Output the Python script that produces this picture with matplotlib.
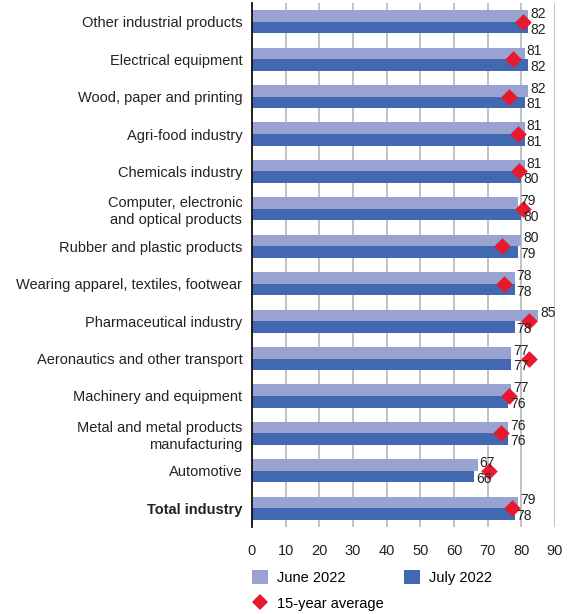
import numpy as np
import matplotlib
matplotlib.use("Agg")
import matplotlib.pyplot as plt
from matplotlib.patches import Patch
from matplotlib.lines import Line2D

plt.rcParams['font.family'] = ['Liberation Sans', 'DejaVu Sans']

categories = [
    "Other industrial products",
    "Electrical equipment",
    "Wood, paper and printing",
    "Agri-food industry",
    "Chemicals industry",
    "Computer, electronic\nand optical products",
    "Rubber and plastic products",
    "Wearing apparel, textiles, footwear",
    "Pharmaceutical industry",
    "Aeronautics and other transport",
    "Machinery and equipment",
    "Metal and metal products\nmanufacturing",
    "Automotive",
    "Total industry",
]
june = [82, 81, 82, 81, 81, 79, 80, 78, 85, 77, 77, 76, 67, 79]
july = [82, 82, 81, 81, 80, 80, 79, 78, 78, 77, 76, 76, 66, 78]
avg15 = [80.5, 77.4, 76.4, 78.9, 79.3, 80.6, 74.2, 74.9, 82.4, 82.4, 76.2, 74.0, 70.5, 77.3]
xticks = [0, 10, 20, 30, 40, 50, 60, 70, 80, 90]

c_june = "#99A3D2"
c_july = "#4168B1"
c_avg = "#E8192C"

fig = plt.figure(figsize=(5.71, 6.14), dpi=100)
ax = fig.add_axes([252 / 571, 1 - 527 / 614, 303 / 571, 524 / 614])

y = np.arange(len(categories))
h = 0.31
ax.barh(y - h / 2, june, height=h, color=c_june, zorder=2)
ax.barh(y + h / 2, july, height=h, color=c_july, zorder=2)
ax.scatter(avg15, y, marker="D", s=72, color=c_avg, zorder=4, linewidths=0)

# value labels: June above the row centre, July below
lab_font = dict(fontsize=10, color="#222222")
for i in range(len(categories)):
    ax.annotate(str(june[i]), (june[i], y[i] - h / 2), xytext=(1.5, 1.5),
                textcoords="offset points", va="center", ha="left", zorder=5, **lab_font)
    ax.annotate(str(july[i]), (july[i], y[i] + h / 2), xytext=(1.5, -1.5),
                textcoords="offset points", va="center", ha="left", zorder=5, **lab_font)

ax.set_xlim(0, 90)
ax.set_ylim(len(categories) - 0.5, -0.5)
ax.set_xticks(xticks)
ax.set_xticklabels([str(t) for t in xticks], fontsize=10.5, color="#222222")
ax.set_yticks(y)
ax.set_yticklabels(categories, fontsize=10.5, color="#222222", linespacing=1.25)
ax.get_yticklabels()[-1].set_fontweight("bold")
ax.tick_params(axis="x", length=0, pad=12)
ax.tick_params(axis="y", length=0, pad=7)
ax.grid(axis="x", color="#BDBDBD", linewidth=1.3, zorder=0)
ax.set_axisbelow(True)
for s in ["top", "right", "bottom"]:
    ax.spines[s].set_visible(False)
ax.spines["left"].set_color("#111111")
ax.spines["left"].set_linewidth(1.3)
ax.spines["left"].set_zorder(3)

handles = [
    Patch(facecolor=c_june, label="June 2022"),
    Line2D([], [], marker="D", linestyle="none", markersize=8, color=c_avg,
           markeredgewidth=0, label="15-year average"),
    Patch(facecolor=c_july, label="July 2022"),
]
fig.legend(handles=handles, ncol=2, loc="upper left", bbox_to_anchor=(248 / 571, 1 - 566 / 614),
           frameon=False, fontsize=10.5, handlelength=1.1, handleheight=1.1, handletextpad=0.6,
           columnspacing=1.4, labelspacing=0.75, borderaxespad=0, borderpad=0.3)

fig.savefig("out.png", dpi=100)
